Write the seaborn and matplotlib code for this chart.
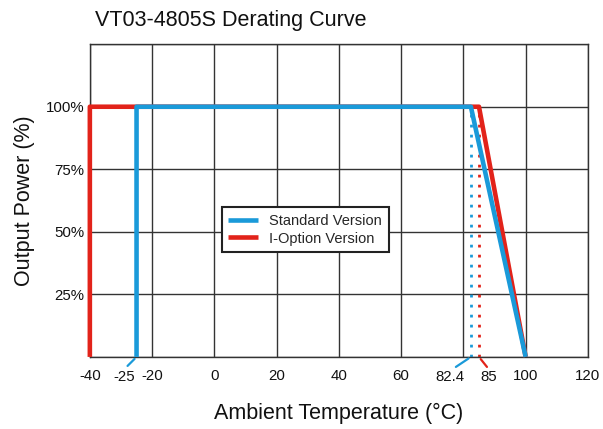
import seaborn as sns
import matplotlib.pyplot as plt
import pandas as pd

# derating curves (temperature in degC, output power in %)
std_temp = [-25, -25, 82.4, 100]
std_power = [0, 100, 100, 0]
iopt_temp = [-40, -40, 85, 100]
iopt_power = [0, 100, 100, 0]

x_ticks = [-40, -20, 0, 20, 40, 60, 80, 100, 120]
x_labels = ["-40", "-20", "0", "20", "40", "60", "", "100", "120"]
y_ticks = [0, 25, 50, 75, 100, 125]
y_labels = ["", "25%", "50%", "75%", "100%", ""]

# extra labels with leader lines: (value, text, colour key, text offset, leader end)
extra_labels = [
    (-25, "-25", "std", (-12, -20), (-9, -9)),
    (82.4, "82.4", "std", (-21, -20), (-15, -10)),
    (85, "85", "iopt", (10, -20), (8, -10)),
]

BLUE = "#1a9ad9"
RED = "#e2231a"
GRID = "#333333"
colors = {"std": BLUE, "iopt": RED}

sns.set_theme(style="white")
plt.rcParams["font.family"] = ["Liberation Sans", "DejaVu Sans"]

df_std = pd.DataFrame({"temp": std_temp, "power": std_power})
df_iopt = pd.DataFrame({"temp": iopt_temp, "power": iopt_power})

fig = plt.figure(figsize=(6.03, 4.29), dpi=100)
ax = fig.add_axes([0.149, 0.168, 0.826, 0.729])

# dotted guide lines at the knee points
ax.plot([std_temp[2]] * 2, [0, std_power[2]], color=BLUE, lw=2.0, ls=(0, (1, 2.6)), zorder=2)
ax.plot([iopt_temp[2]] * 2, [0, iopt_power[2]], color=RED, lw=2.0, ls=(0, (1, 2.6)), zorder=2)

sns.lineplot(data=df_iopt, x="temp", y="power", sort=False, estimator=None,
             color=RED, lw=3.3, label="I-Option Version", ax=ax, zorder=3)
sns.lineplot(data=df_std, x="temp", y="power", sort=False, estimator=None,
             color=BLUE, lw=3.3, label="Standard Version", ax=ax, zorder=4)
for ln in ax.get_lines():
    ln.set_clip_on(False)
    ln.set_solid_capstyle("butt")

ax.set_xlim(-40, 120)
ax.set_ylim(0, 125)
ax.set_xticks(x_ticks)
ax.set_xticklabels(x_labels, fontsize=10.8)
ax.set_yticks(y_ticks)
ax.set_yticklabels(y_labels, fontsize=10.8)
ax.tick_params(length=0, colors="#111111")
ax.tick_params(axis="x", pad=9)
ax.tick_params(axis="y", pad=4)
ax.grid(True, color=GRID, lw=1.0)
ax.set_axisbelow(True)
for sp in ax.spines.values():
    sp.set_color(GRID)
    sp.set_linewidth(1.0)

for val, txt, key, toff, lend in extra_labels:
    ax.annotate(txt, xy=(val, 0), xytext=toff, textcoords="offset pixels",
                ha="center", va="center", fontsize=10.8, color="#111111",
                annotation_clip=False)
    ax.annotate("", xy=(val, 0), xytext=lend, textcoords="offset pixels",
                arrowprops=dict(arrowstyle="-", color=colors[key], lw=1.6,
                                shrinkA=0, shrinkB=2),
                annotation_clip=False)

ax.set_xlabel("Ambient Temperature (°C)", fontsize=15.5, labelpad=14, color="#111111")
ax.set_ylabel("Output Power (%)", fontsize=15.5, labelpad=8, color="#111111")
fig.text(0.157, 0.953, "VT03-4805S Derating Curve", fontsize=15.5, ha="left", va="center",
         color="#111111")

handles, labels = ax.get_legend_handles_labels()
leg = ax.legend(handles[::-1], labels[::-1], loc="lower left", bbox_to_anchor=(0.265, 0.335),
                borderaxespad=0, fontsize=10.5, frameon=True, fancybox=False, framealpha=1,
                edgecolor="#222222", handlelength=2.0, borderpad=0.45, labelspacing=0.25)
leg.get_frame().set_linewidth(1.5)

fig.savefig("out.png", dpi=100)
